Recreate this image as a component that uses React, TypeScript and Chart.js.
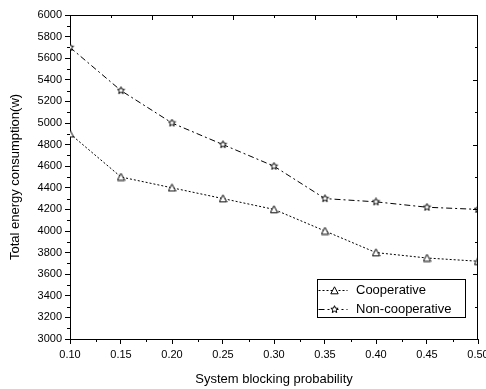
import React, { useEffect, useRef } from "react";
import { Chart, registerables } from "chart.js";

Chart.register(...registerables);

const blockingProb = [0.1, 0.15, 0.2, 0.25, 0.3, 0.35, 0.4, 0.45, 0.5];
const cooperative = [4900, 4500, 4400, 4300, 4200, 4000, 3800, 3750, 3720];
const nonCooperative = [5700, 5300, 5000, 4800, 4600, 4300, 4270, 4220, 4200];
const seriesNames = ["Cooperative", "Non-cooperative"];
const xTitle = "System blocking probability";
const yTitle = "Total energy consumption(w)";

const FONT = "'Liberation Sans', Arial, sans-serif";

function makeStar(size: number): HTMLCanvasElement {
  const c = document.createElement("canvas");
  c.width = size;
  c.height = size;
  const ctx = c.getContext("2d")!;
  const cx = size / 2, cy = size / 2;
  const R = size / 2 - 0.7, r = R * 0.45;
  ctx.fillStyle = "#fff";
  ctx.strokeStyle = "#000";
  ctx.lineWidth = 1;
  ctx.beginPath();
  for (let i = 0; i < 10; i++) {
    const rad = i % 2 === 0 ? R : r;
    const a = -Math.PI / 2 + (i * Math.PI) / 5;
    const px = cx + rad * Math.cos(a), py = cy + rad * Math.sin(a);
    if (i === 0) ctx.moveTo(px, py); else ctx.lineTo(px, py);
  }
  ctx.closePath();
  ctx.fill();
  ctx.stroke();
  return c;
}

function makeTriangle(size: number): HTMLCanvasElement {
  const c = document.createElement("canvas");
  c.width = size;
  c.height = size;
  const ctx = c.getContext("2d")!;
  ctx.fillStyle = "#fff";
  ctx.strokeStyle = "#000";
  ctx.lineWidth = 1;
  ctx.beginPath();
  ctx.moveTo(size / 2, 0.8);
  ctx.lineTo(size - 0.8, size - 1.2);
  ctx.lineTo(0.8, size - 1.2);
  ctx.closePath();
  ctx.fill();
  ctx.stroke();
  return c;
}

const frame = {
  id: "frame",
  afterDraw(chart: any) {
    const { ctx, chartArea: a, scales } = chart;
    const xs = scales.x, ys = scales.y;
    ctx.save();
    ctx.strokeStyle = "#000";
    ctx.lineWidth = 1;
    ctx.beginPath();
    ctx.moveTo(a.left, a.top + 0.5);
    ctx.lineTo(a.right, a.top + 0.5);
    ctx.moveTo(a.right - 0.5, a.top);
    ctx.lineTo(a.right - 0.5, a.bottom);
    for (let i = 0; i < 8; i++) {
      const v = 0.125 + i * 0.05;
      const px = Math.round(xs.getPixelForValue(v)) + 0.5;
      ctx.moveTo(px, a.bottom);
      ctx.lineTo(px, a.bottom + 3);
    }
    for (let v = 3100; v < 6000; v += 200) {
      const py = Math.round(ys.getPixelForValue(v)) + 0.5;
      ctx.moveTo(a.left, py);
      ctx.lineTo(a.left - 3, py);
    }
    for (let k = 1; k < 10; k++) {
      const v = 0.1 + k * 0.04;
      if (v > 0.5) break;
      const px = Math.round(xs.getPixelForValue(v)) + 0.5;
      const len = k % 2 === 0 ? 5 : 3;
      ctx.moveTo(px, a.top);
      ctx.lineTo(px, a.top + len);
    }
    for (let k = 1; k < 10; k++) {
      const v = 3000 + k * 300;
      const py = Math.round(ys.getPixelForValue(v)) + 0.5;
      const len = k % 2 === 0 ? 5 : 3;
      ctx.moveTo(a.right, py);
      ctx.lineTo(a.right - len, py);
    }
    ctx.stroke();

    const bx = 317.5, by = 279.5, bw = 148, bh = 38;
    ctx.fillStyle = "#fff";
    ctx.fillRect(bx, by, bw, bh);
    ctx.strokeRect(bx, by, bw, bh);
    const rows = [290.5, 309.5];
    chart.data.datasets.forEach((ds: any, i: number) => {
      const y = rows[i];
      ctx.save();
      ctx.setLineDash(ds.borderDash);
      ctx.beginPath();
      ctx.moveTo(bx + 1, y);
      ctx.lineTo(bx + 30, y);
      ctx.stroke();
      ctx.restore();
      const img = ds.pointStyle as HTMLCanvasElement;
      ctx.drawImage(img, bx + 17 - img.width / 2, y - img.height / 2);
      ctx.fillStyle = "#000";
      ctx.font = `13px ${FONT}`;
      ctx.textBaseline = "middle";
      ctx.textAlign = "left";
      ctx.fillText(ds.label, 356, y);
    });
    ctx.restore();
  },
};

export default function App() {
  const ref = useRef<HTMLCanvasElement>(null);
  useEffect(() => {
    document.body.style.margin = "0";
    const star = makeStar(9);
    const tri = makeTriangle(9);
    const chart = new Chart(ref.current!, {
      type: "line",
      data: {
        datasets: [
          {
            label: seriesNames[0],
            data: blockingProb.map((x, i) => ({ x, y: cooperative[i] })),
            borderColor: "#000",
            borderWidth: 1,
            borderDash: [2, 2],
            pointStyle: tri as any,
            pointRadius: 5,
            tension: 0,
          },
          {
            label: seriesNames[1],
            data: blockingProb.map((x, i) => ({ x, y: nonCooperative[i] })),
            borderColor: "#000",
            borderWidth: 1,
            borderDash: [6, 3, 2, 3],
            pointStyle: star as any,
            pointRadius: 5,
            tension: 0,
          },
        ],
      },
      options: {
        animation: false,
        responsive: false,
        layout: { padding: { left: 0, right: 8, top: 15, bottom: 0 }, autoPadding: false },
        plugins: { legend: { display: false }, tooltip: { enabled: false } },
        scales: {
          x: {
            type: "linear",
            min: 0.1,
            max: 0.5,
            afterFit: (s: any) => {
              s.height = 50;
              s.paddingLeft = 0;
              s.paddingRight = 0;
            },
            ticks: {
              stepSize: 0.05,
              callback: (v: any) => Number(v).toFixed(2),
              color: "#000",
              font: { family: FONT, size: 11 },
              padding: 4,
              maxRotation: 0,
              autoSkip: false,
            },
            grid: { drawOnChartArea: false, tickLength: 5, color: "#000" },
            border: { display: true, color: "#000", width: 1 },
            title: {
              display: true,
              text: xTitle,
              color: "#000",
              font: { family: FONT, size: 13 },
              padding: { top: 0, bottom: 2 },
            },
          },
          y: {
            type: "linear",
            min: 3000,
            max: 6000,
            afterFit: (s: any) => {
              s.width = 70;
              s.paddingTop = 0;
              s.paddingBottom = 0;
            },
            ticks: {
              stepSize: 200,
              callback: (v: any) => String(v),
              color: "#000",
              font: { family: FONT, size: 11 },
              padding: 3,
              autoSkip: false,
            },
            grid: { drawOnChartArea: false, tickLength: 5, color: "#000" },
            border: { display: true, color: "#000", width: 1 },
            title: {
              display: true,
              text: yTitle,
              color: "#000",
              font: { family: FONT, size: 13 },
              padding: { top: 8, bottom: 0 },
            },
          },
        },
      },
      plugins: [frame],
    });
    return () => chart.destroy();
  }, []);
  return <canvas ref={ref} width={486} height={389} style={{ display: "block" }} />;
}
